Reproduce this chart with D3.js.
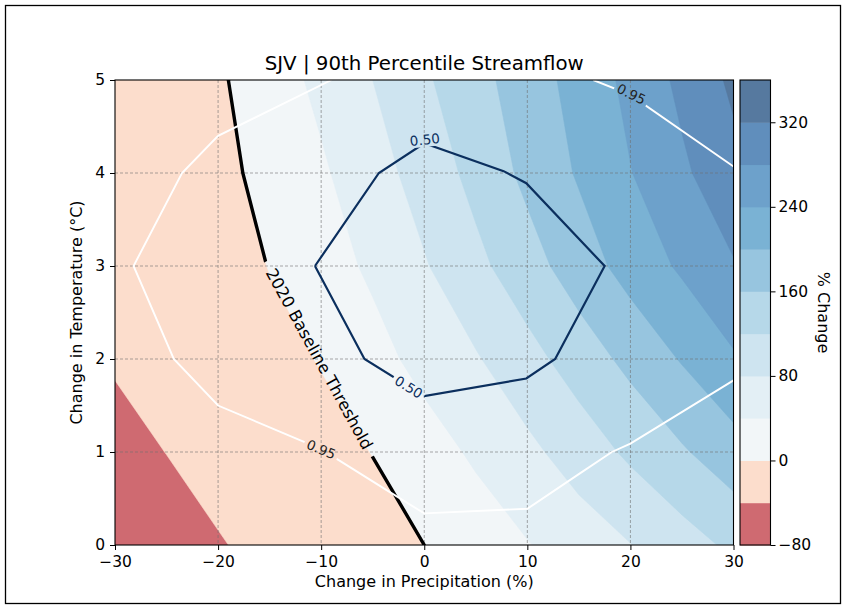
<!DOCTYPE html>
<html>
<head>
<meta charset="utf-8">
<script src="https://cdn.jsdelivr.net/npm/d3@7"></script>
<style>
  body { margin: 0; background: #fff; }
  svg text { font-family: "DejaVu Sans", sans-serif; fill: #000; }
</style>
</head>
<body>
<svg id="chart" width="846" height="609"></svg>
<script>
// ---- data ----
// Grid of % change in 90th percentile streamflow, one row per temperature step.
const precipGrid = [-30, -25, -20, -15, -10, -5, 0, 5, 10, 15, 20, 25, 30];
const tempGrid = [0, 1, 2, 3, 4, 5];
const changeT0 = [-63, -53, -42, -32, -21, -10.5, 0, 19, 38, 58.6, 79, 103, 128];
const changeT1 = [-50, -39.6, -29.5, -19.5, -9.4, 0.6, 23.3, 45.9, 70.6, 98.2, 127.3, 155.5, 183.7];
const changeT2 = [-37, -27.6, -18.2, -8.8, 1.5, 26.8, 51.9, 76.5, 106.5, 138.4, 171, 203, 235.5];
const changeT3 = [-27, -21, -15, 0.9, 22.9, 46.6, 76.7, 109.9, 143.7, 180.4, 215.4, 246, 277];
const changeT4 = [-26, -19, -10.9, 11.8, 34.5, 63.8, 96.3, 131.8, 169.7, 204.1, 238.6, 273.1, 307.6];
const changeT5 = [-21, -13, -5.3, 21.3, 49.2, 80, 114.2, 147, 180.3, 214.5, 250.2, 289.2, 327.7];

// Filled contour levels and colour bar ticks
const levels = [-80, -40, 0, 40, 80, 120, 160, 200, 240, 280, 320, 360];
const colorbarTicks = [-80, 0, 80, 160, 240, 320];
const precipTicks = [-30, -20, -10, 0, 10, 20, 30];
const tempTicks = [0, 1, 2, 3, 4, 5];

// Diverging red-blue palette stops
const rdbuStops = ["#67001f", "#b2182b", "#d6604d", "#f4a582", "#fddbc7", "#f7f7f7",
                   "#d1e5f0", "#92c5de", "#4393c3", "#2166ac", "#053061"];

// Probability isolines [precip %, temp °C]
const prob50Line = [[-10.6, 3], [-4.4, 4], [0, 4.32], [7.7, 4.02], [9.9, 3.89], [17.5, 3],
                    [12.7, 2], [9.9, 1.79], [0, 1.6], [-5.8, 2], [-10.6, 3]];
const prob95Lower = [[-9.0, 5], [-20, 4.4], [-23.5, 4], [-28.2, 3], [-24.3, 2], [-20, 1.5],
                     [-10, 1.03], [-3.65, 0.59], [0, 0.34], [10, 0.39], [15.1, 0.77],
                     [18.2, 1.0], [20, 1.09], [30, 1.77]];
const prob95Upper = [[16.4, 5], [20, 4.84], [30, 4.07]];

// Inline labels: text, position [precip, temp], rotation (deg), colour
const lineLabels = [
  { text: "0.50", at: [0.05, 4.36], rot: -6, color: "#0b2f5e", w: 36, h: 15 },
  { text: "0.50", at: [-1.5, 1.70], rot: 32, color: "#0b2f5e", w: 36, h: 15 },
  { text: "0.95", at: [-10.0, 1.03], rot: 23, color: "#222", w: 36, h: 15 },
  { text: "0.95", at: [20.1, 4.85], rot: 26, color: "#222", w: 36, h: 15 }
];
const baselineLabel = { text: "2020 Baseline Threshold", at: [-10.2, 2.0], rot: 61.2, w: 222, h: 22 };

// ---- layout ----
const svg = d3.select("#chart");
const plot = { left: 115, right: 733.5, top: 80, bottom: 545 };
const cbar = { left: 740, right: 770.5 };
const tickFont = 15.5, labelFont = 16;

const x = d3.scaleLinear().domain([-30, 30]).range([plot.left, plot.right]);
const y = d3.scaleLinear().domain([0, 5]).range([plot.bottom, plot.top]);

// colour mapping: two-slope norm centred on 0, palette at 70% over white
const norm = d3.scaleLinear().domain([-80, 0, 360]).range([0, 0.5, 1]);
const palette = d3.scaleLinear()
  .domain(rdbuStops.map((d, i) => i / (rdbuStops.length - 1)))
  .range(rdbuStops).interpolate(d3.interpolateRgb);
const bandColor = (lo, hi) => d3.interpolateRgb("#ffffff", palette(norm((lo + hi) / 2)))(0.7);
const minusFmt = d => d < 0 ? "\u2212" + Math.abs(d) : String(d);

// outer figure frame
svg.append("rect").attr("x", 5.5).attr("y", 5.5).attr("width", 835).attr("height", 598)
  .attr("fill", "none").attr("stroke", "#000").attr("stroke-width", 1.3);

const defs = svg.append("defs");
defs.append("clipPath").attr("id", "plotClip").append("rect")
  .attr("x", plot.left).attr("y", plot.top)
  .attr("width", plot.right - plot.left).attr("height", plot.bottom - plot.top);

// ---- contour field ----
const rows = [changeT0, changeT1, changeT2, changeT3, changeT4, changeT5];
const nx = precipGrid.length, ny = tempGrid.length;
const values = rows.flat();
const gxData = d3.scaleLinear().domain([0.5, nx - 0.5]).range([precipGrid[0], precipGrid[nx - 1]]);
const gyData = d3.scaleLinear().domain([0.5, ny - 0.5]).range([tempGrid[0], tempGrid[ny - 1]]);
const gridPath = d3.geoPath(d3.geoTransform({
  point: function(px, py) { this.stream.point(x(gxData(px)), y(gyData(py))); }
}));

const contours = d3.contours().size([nx, ny]).thresholds(levels.slice(0, -1))(values);

const fieldG = svg.append("g").attr("clip-path", "url(#plotClip)");
fieldG.selectAll("path.band").data(contours).join("path")
  .attr("class", "band")
  .attr("d", gridPath)
  .attr("fill", d => bandColor(d.value, d.value + 40))
  .attr("stroke", d => bandColor(d.value, d.value + 40))
  .attr("stroke-width", 0.6);

// dashed grid
const gridG = svg.append("g").attr("clip-path", "url(#plotClip)");
gridG.selectAll("line.gx").data(precipTicks.slice(1, -1)).join("line")
  .attr("x1", d => x(d)).attr("x2", d => x(d)).attr("y1", plot.top).attr("y2", plot.bottom)
  .attr("stroke", "#6e6e6e").attr("stroke-opacity", 0.75).attr("stroke-width", 0.8)
  .attr("stroke-dasharray", "3,2");
gridG.selectAll("line.gy").data(tempTicks.slice(1, -1)).join("line")
  .attr("y1", d => y(d)).attr("y2", d => y(d)).attr("x1", plot.left).attr("x2", plot.right)
  .attr("stroke", "#6e6e6e").attr("stroke-opacity", 0.75).attr("stroke-width", 0.8)
  .attr("stroke-dasharray", "3,2");

// mask leaving gaps where inline labels sit
const mask = defs.append("mask").attr("id", "labelGaps").attr("maskUnits", "userSpaceOnUse")
  .attr("x", 0).attr("y", 0).attr("width", 846).attr("height", 609);
mask.append("rect").attr("x", 0).attr("y", 0).attr("width", 846).attr("height", 609).attr("fill", "#fff");
[...lineLabels, baselineLabel].forEach(l => {
  mask.append("rect")
    .attr("x", -l.w / 2).attr("y", -l.h / 2).attr("width", l.w).attr("height", l.h)
    .attr("fill", "#000")
    .attr("transform", `translate(${x(l.at[0])},${y(l.at[1])}) rotate(${l.rot})`);
});

const linesG = svg.append("g").attr("clip-path", "url(#plotClip)")
  .append("g").attr("mask", "url(#labelGaps)");

// 2020 baseline threshold: the zero isoline of the field
const zeroContour = d3.contours().size([nx, ny]).thresholds([0])(values)[0];
linesG.append("path").attr("d", gridPath(zeroContour))
  .attr("fill", "none").attr("stroke", "#000").attr("stroke-width", 3.4)
  .attr("stroke-linejoin", "round");

const line = d3.line().x(d => x(d[0])).y(d => y(d[1]));
linesG.append("path").attr("d", line(prob95Lower)).attr("fill", "none")
  .attr("stroke", "#fff").attr("stroke-width", 1.9);
linesG.append("path").attr("d", line(prob95Upper)).attr("fill", "none")
  .attr("stroke", "#fff").attr("stroke-width", 1.9);
linesG.append("path").attr("d", line(prob50Line)).attr("fill", "none")
  .attr("stroke", "#0b2f5e").attr("stroke-width", 2.2).attr("stroke-linejoin", "miter");

// inline labels
lineLabels.forEach(l => {
  svg.append("text").text(l.text)
    .attr("transform", `translate(${x(l.at[0])},${y(l.at[1])}) rotate(${l.rot})`)
    .attr("text-anchor", "middle").attr("dominant-baseline", "central")
    .attr("font-size", 13.5).style("fill", l.color);
});
svg.append("text").text(baselineLabel.text)
  .attr("transform", `translate(${x(baselineLabel.at[0])},${y(baselineLabel.at[1])}) rotate(${baselineLabel.rot})`)
  .attr("text-anchor", "middle").attr("dominant-baseline", "central")
  .attr("font-size", 16.5);

// ---- axes ----
const xAxis = d3.axisBottom(x).tickValues(precipTicks).tickSize(5).tickPadding(6)
  .tickFormat(minusFmt);
const yAxis = d3.axisLeft(y).tickValues(tempTicks).tickSize(5).tickPadding(5)
  .tickFormat(minusFmt);
const gX = svg.append("g").attr("transform", `translate(0,${plot.bottom})`).call(xAxis);
const gY = svg.append("g").attr("transform", `translate(${plot.left},0)`).call(yAxis);
[gX, gY].forEach(g => {
  g.select(".domain").remove();
  g.selectAll(".tick line").attr("stroke", "#000").attr("stroke-width", 1);
  g.selectAll(".tick text").attr("font-size", tickFont).attr("font-family", "DejaVu Sans, sans-serif").style("fill", "#000");
});
svg.append("rect").attr("x", plot.left).attr("y", plot.top)
  .attr("width", plot.right - plot.left).attr("height", plot.bottom - plot.top)
  .attr("fill", "none").attr("stroke", "#000").attr("stroke-width", 1.1);

svg.append("text").text("SJV | 90th Percentile Streamflow")
  .attr("x", (plot.left + plot.right) / 2).attr("y", 70)
  .attr("text-anchor", "middle").attr("font-size", 19.8);
svg.append("text").text("Change in Precipitation (%)")
  .attr("x", (plot.left + plot.right) / 2).attr("y", 587)
  .attr("text-anchor", "middle").attr("font-size", labelFont);
svg.append("text").text("Change in Temperature (\u00b0C)")
  .attr("transform", `translate(82,${(plot.top + plot.bottom) / 2}) rotate(-90)`)
  .attr("text-anchor", "middle").attr("font-size", labelFont);

// ---- colour bar ----
const cb = d3.scaleLinear().domain([levels[0], levels[levels.length - 1]]).range([plot.bottom, plot.top]);
const bands = d3.pairs(levels);
svg.append("g").selectAll("rect").data(bands).join("rect")
  .attr("x", cbar.left).attr("width", cbar.right - cbar.left)
  .attr("y", d => cb(d[1])).attr("height", d => cb(d[0]) - cb(d[1]) + 0.5)
  .attr("fill", d => bandColor(d[0], d[1]));
svg.append("rect").attr("x", cbar.left).attr("y", plot.top)
  .attr("width", cbar.right - cbar.left).attr("height", plot.bottom - plot.top)
  .attr("fill", "none").attr("stroke", "#000").attr("stroke-width", 1.1);
const cAxis = d3.axisRight(cb).tickValues(colorbarTicks).tickSize(5).tickPadding(3)
  .tickFormat(minusFmt);
const gC = svg.append("g").attr("transform", `translate(${cbar.right},0)`).call(cAxis);
gC.select(".domain").remove();
gC.selectAll(".tick line").attr("stroke", "#000");
gC.selectAll(".tick text").attr("font-size", tickFont).attr("font-family", "DejaVu Sans, sans-serif").style("fill", "#000");
svg.append("text").text("% Change")
  .attr("transform", `translate(818,${(plot.top + plot.bottom) / 2}) rotate(90)`)
  .attr("text-anchor", "middle").attr("font-size", labelFont);
</script>
</body>
</html>
